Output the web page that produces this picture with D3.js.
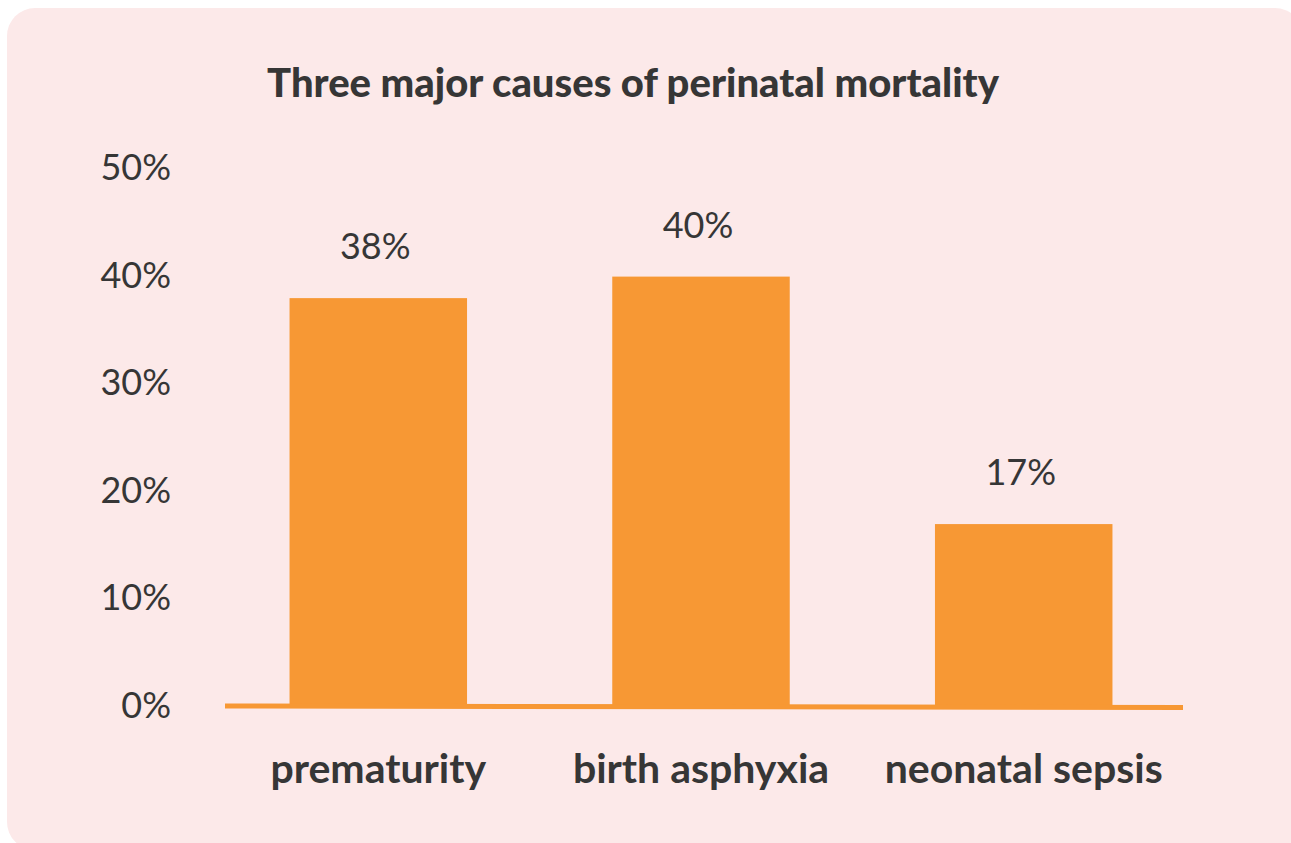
<!DOCTYPE html>
<html lang="en">
<head>
    <meta charset="UTF-8">
    <script src="https://d3js.org/d3.v7.min.js"></script>
    <title>Three major causes of perinatal mortality</title>
    <style>
        body { margin: 0; background: #ffffff; }
        svg { display: block; }
    </style>
</head>
<body>
    <script>
        const width = 1291;
        const height = 843;

        // data
        const title = "Three major causes of perinatal mortality";
        const causes = ["prematurity", "birth asphyxia", "neonatal sepsis"];
        const shares = [38, 40, 17];
        const yTicks = [0, 10, 20, 30, 40, 50];

        const ink = "#363636";
        const orange = "#f79834";

        const svg = d3.select("body")
            .append("svg")
            .attr("width", width)
            .attr("height", height);

        // pink card behind everything
        svg.append("rect")
            .attr("x", 7)
            .attr("y", 8)
            .attr("width", 1296)
            .attr("height", 842)
            .attr("rx", 28)
            .attr("fill", "#fce9e9");

        const x = d3.scaleBand()
            .domain(causes)
            .range([225, 1177])
            .paddingInner(0.45)
            .paddingOuter(0.2);

        const y = d3.scaleLinear()
            .domain([0, 50])
            .range([707, 169]);

        svg.append("text")
            .attr("x", 633)
            .attr("y", 97)
            .attr("text-anchor", "middle")
            .attr("font-family", "Lato, sans-serif")
            .attr("font-weight", 900)
            .attr("font-size", "40px")
            .attr("fill", ink)
            .text(title);

        // y axis labels, no line
        const yAxis = d3.axisLeft(y)
            .tickValues(yTicks)
            .tickFormat(d => d + "%")
            .tickSize(0)
            .tickPadding(0);

        const gy = svg.append("g")
            .attr("transform", "translate(171,-1)")
            .call(yAxis);
        gy.select(".domain").remove();
        gy.selectAll("text")
            .attr("font-family", "Lato, sans-serif")
            .attr("font-size", "36px")
            .attr("fill", ink);

        // bars
        svg.selectAll("rect.bar")
            .data(shares)
            .join("rect")
            .attr("class", "bar")
            .attr("x", (d, i) => x(causes[i]))
            .attr("y", d => y(d))
            .attr("width", x.bandwidth())
            .attr("height", d => y(0) - y(d) + 1)
            .attr("fill", orange);

        // baseline
        svg.append("line")
            .attr("x1", 225)
            .attr("x2", x.range()[1] + 6)
            .attr("y1", y(0) - 1)
            .attr("y2", y(0) + 0.5)
            .attr("stroke", orange)
            .attr("stroke-width", 5);

        // value labels
        svg.selectAll("text.value")
            .data(shares)
            .join("text")
            .attr("class", "value")
            .attr("x", (d, i) => x(causes[i]) + x.bandwidth() / 2 - 3)
            .attr("y", d => y(d) - 39)
            .attr("text-anchor", "middle")
            .attr("font-family", "Lato, sans-serif")
            .attr("font-size", "36px")
            .attr("fill", ink)
            .text(d => d + "%");

        // category labels
        svg.selectAll("text.cat")
            .data(causes)
            .join("text")
            .attr("class", "cat")
            .attr("x", d => x(d) + x.bandwidth() / 2)
            .attr("y", 783)
            .attr("text-anchor", "middle")
            .attr("font-family", "Lato, sans-serif")
            .attr("font-weight", 700)
            .attr("font-size", "41px")
            .attr("fill", ink)
            .text(d => d);
    </script>
</body>
</html>
